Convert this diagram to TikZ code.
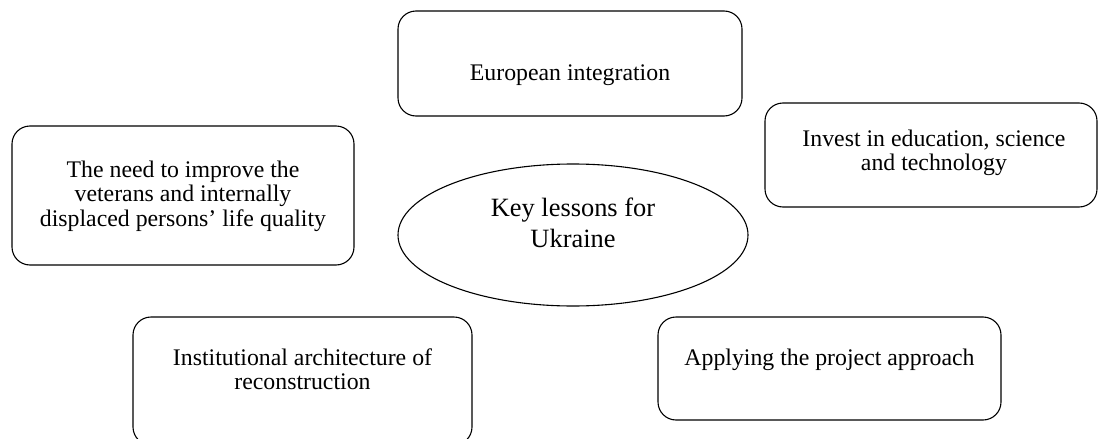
\documentclass[tikz,border=0pt]{standalone}
\usepackage{fontspec}
\setmainfont{Liberation Serif}
\usetikzlibrary{positioning,shapes.geometric}

\begin{document}
\begin{tikzpicture}[x=1pt, y=-1pt,
    lesson/.style={draw, rounded corners=18pt, line width=1.1pt, inner sep=0pt},
    txt/.style={align=center, inner sep=0pt, anchor=base, font=\fontsize{23.8}{24.5}\selectfont}]
  \useasboundingbox (0,0) rectangle (1098,439);

  % boxes round the centre
  \node[lesson, minimum width=344pt, minimum height=105pt] (eu) at (570,63.5) {};
  \node[lesson, minimum width=332pt, minimum height=104pt] (invest) at (931,155) {};
  \node[lesson, minimum width=342pt, minimum height=139pt] (veterans) at (183,195.5) {};
  \node[lesson, minimum width=339pt, minimum height=128pt] (institut) at (302.5,381) {};
  \node[lesson, minimum width=343pt, minimum height=103pt] (project) at (829.5,368.5) {};
  \node[draw, ellipse, line width=1.1pt, minimum width=350pt, minimum height=142pt, inner sep=0pt] (key) at (573,235) {};

  % texts (base = last line)
  \node[txt] (eu-t) at (570,80) {European integration};
  \node[txt] (invest-t) at (934,170.5) {Invest in education, science\\and technology};
  \node[txt] (veterans-t) at (183,226) {The need to improve the\\veterans and internally\\displaced persons’ life quality};
  \node[txt] (institut-t) at (302.5,389.5) {Institutional architecture of\\reconstruction};
  \node[txt] (project-t) at (829.5,365) {Applying the project approach};
  \node[txt, font=\fontsize{26.4}{31}\selectfont] (key-t) at (573,247) {Key lessons for\\Ukraine};
\end{tikzpicture}
\end{document}
